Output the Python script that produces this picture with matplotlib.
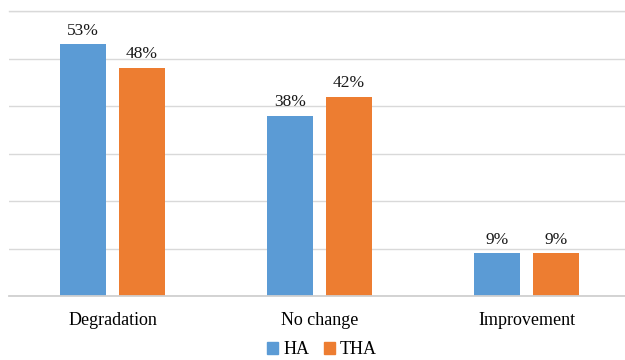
import matplotlib
matplotlib.use("Agg")
import matplotlib.pyplot as plt
import numpy as np
from matplotlib.patches import Patch

categories = ["Degradation", "No change", "Improvement"]
ha = [53, 38, 9]
tha = [48, 42, 9]
series_names = ["HA", "THA"]
colors = ["#5B9BD5", "#ED7D31"]

plt.rcParams['font.family'] = ['Liberation Serif', 'DejaVu Serif']

fig = plt.figure(figsize=(6.25, 3.6), dpi=100)
ax = fig.add_axes([9/625, (360-296)/360, 621/625, 285/360])
x = np.arange(len(categories))
w = 46/207
off = 29.5/207
b1 = ax.bar(x - off, ha, w, color=colors[0], zorder=3)
b2 = ax.bar(x + off, tha, w, color=colors[1], zorder=3)
for bars in (b1, b2):
    for r in bars:
        ax.annotate(f"{r.get_height():.0f}%", (r.get_x() + r.get_width()/2, r.get_height()),
                    xytext=(0, 4), textcoords="offset points", ha="center", va="bottom",
                    fontsize=12.5, color="#1a1a1a")
ax.set_ylim(0, 60)
ax.set_xlim(-0.5, 2.5)
ax.set_yticks(np.arange(0, 61, 10))
ax.yaxis.grid(True, color="#d9d9d9", linewidth=1, zorder=0)
ax.tick_params(axis='y', left=False, labelleft=False)
ax.tick_params(axis='x', bottom=False, labelsize=13, pad=8, colors="#000000")
ax.set_xticks(x)
ax.set_xticklabels(categories)
for s in ax.spines.values():
    s.set_visible(False)
ax.axhline(0, color="#d0d0d0", linewidth=1.3, zorder=4, clip_on=False)
ax.axhline(60, color="#d9d9d9", linewidth=1, zorder=1, clip_on=False)

handles = [Patch(color=c, label=n) for c, n in zip(colors, series_names)]
fig.legend(handles=handles, loc="center", bbox_to_anchor=(322/625, 1 - 350/360), ncol=2,
           frameon=False, fontsize=13, handlelength=0.6, handleheight=0.6,
           handletextpad=0.3, columnspacing=0.8)
fig.savefig("out.png", dpi=100)
